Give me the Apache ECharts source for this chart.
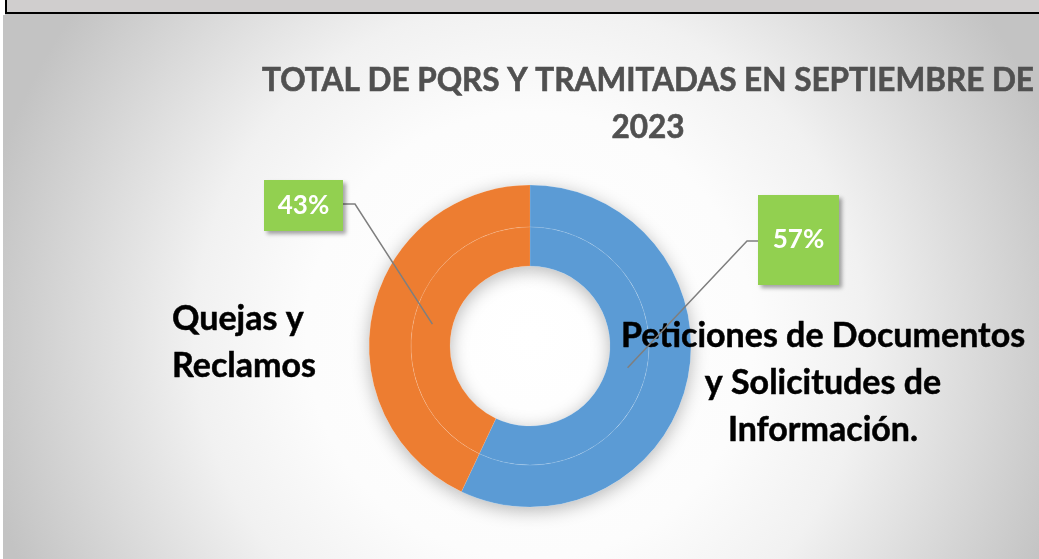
<!DOCTYPE html>
<html>
<head>
<meta charset="utf-8">
<title>PQRS septiembre 2023</title>
<script src="https://cdn.jsdelivr.net/npm/echarts@6/dist/echarts.min.js"></script>
<style>
    html, body { margin: 0; padding: 0; background: #fff; }
    #chart { width: 1039px; height: 559px; }
</style>
</head>
<body>
<div id="chart"></div>
<script>
// datos
var titleText = 'TOTAL DE PQRS Y TRAMITADAS EN SEPTIEMBRE DE\n2023';
var categories = ['Peticiones de Documentos\ny Solicitudes de\nInformación.', 'Quejas y\nReclamos'];
var values = [57, 43];
var colors = ['#5b9bd5', '#ed7d31'];

// posiciones de las etiquetas (en px)
var pctBoxes = [
    { x: 798.5, y: 240, w: 81, h: 90, lineY: 241, side: 'right' },
    { x: 303.5, y: 205.5, w: 79, h: 51, lineY: 204, side: 'left' },
];
var nameSpots = [
    { x: 823, y: 383, align: 'center' },
    { x: 172, y: 343, align: 'left' },
];

var center = [530, 346];
var font = 'Lato, "Open Sans", sans-serif';

var ringData = values.map(function (v, i) {
    return { name: categories[i], value: v, itemStyle: { color: colors[i] } };
});

var option = {
    animation: false,
    backgroundColor: {
        type: 'radial',
        x: 0.51,
        y: 0.6,
        r: 1.0,
        colorStops: [
            { offset: 0, color: '#ffffff' },
            { offset: 0.4, color: '#fcfcfc' },
            { offset: 0.6, color: '#f1f1f1' },
            { offset: 1, color: '#c3c3c3' },
        ],
    },
    graphic: [
        { type: 'rect', shape: { x: 0, y: 0, width: 3, height: 559 }, style: { fill: '#fff' } },
        { type: 'rect', shape: { x: 0, y: 0, width: 5, height: 15 }, style: { fill: '#fff' } },
        {
            type: 'rect',
            shape: { x: 6, y: -3, width: 1040, height: 16 },
            style: { fill: '#d0cece', stroke: '#000', lineWidth: 2 },
        },
    ],
    title: {
        text: titleText,
        left: 643,
        top: 52,
        textAlign: 'center',
        textStyle: {
            fontFamily: font,
            fontSize: 31.5,
            fontWeight: 'bold',
            color: '#505050',
            lineHeight: 47,
            textBorderColor: '#505050',
            textBorderWidth: 0.6,
        },
    },
    series: [{
        // sombra bajo el anillo
        type: 'pie',
        silent: true,
        center: center,
        radius: [80, 161],
        startAngle: 90,
        z: 1,
        label: { show: false },
        labelLine: { show: false },
        itemStyle: {
            color: '#ffffff',
            shadowBlur: 18,
            shadowOffsetY: 4,
            shadowColor: 'rgba(0, 0, 0, 0.28)',
        },
        data: values.slice(),
    }, {
        // anillo exterior, con los nombres
        type: 'pie',
        silent: true,
        center: center,
        radius: [119, 161],
        startAngle: 90,
        avoidLabelOverlap: false,
        z: 2,
        itemStyle: {
            borderColor: 'rgba(255, 255, 255, 0.18)',
            borderWidth: 0.6,
        },
        label: {
            show: true,
            position: 'outside',
            formatter: '{b}',
            fontFamily: font,
            fontSize: 34,
            fontWeight: 'bold',
            color: '#000',
            lineHeight: 47,
            textBorderColor: '#000',
            textBorderWidth: 0.5,
        },
        labelLine: { show: false },
        labelLayout: function (params) {
            var s = nameSpots[params.dataIndex];
            return { x: s.x, y: s.y, align: s.align, verticalAlign: 'middle' };
        },
        data: ringData,
    }, {
        // anillo interior
        type: 'pie',
        silent: true,
        center: center,
        radius: [80, 119],
        startAngle: 90,
        z: 2,
        itemStyle: {
            borderColor: 'rgba(255, 255, 255, 0.18)',
            borderWidth: 0.6,
        },
        label: { show: false },
        labelLine: { show: false },
        data: ringData,
    }, {
        // porcentajes con línea guía
        type: 'pie',
        silent: true,
        center: center,
        radius: [0, 100],
        startAngle: 90,
        avoidLabelOverlap: false,
        z: 3,
        itemStyle: { color: 'rgba(0, 0, 0, 0)' },
        label: {
            show: true,
            position: 'outside',
            formatter: function (p) {
                return Math.round(p.percent) + '%';
            },
            fontFamily: font,
            fontSize: 26,
            fontWeight: 'bold',
            color: '#fff',
            backgroundColor: '#92d050',
            shadowColor: 'rgba(0, 0, 0, 0.35)',
            shadowBlur: 4,
            shadowOffsetX: 3,
            shadowOffsetY: 3,
        },
        labelLine: {
            show: true,
            length: 20,
            length2: 10,
            lineStyle: { color: '#7f7f7f', width: 1.5 },
        },
        labelLayout: function (params) {
            var b = pctBoxes[params.dataIndex];
            var edge = b.side === 'left' ? b.x + b.w / 2 : b.x - b.w / 2;
            var knee = b.side === 'left' ? edge + 12 : edge - 11;
            var res = {
                x: b.x,
                y: b.y,
                align: 'center',
                verticalAlign: 'middle',
            };
            if (params.labelLinePoints) {
                res.labelLinePoints = [params.labelLinePoints[0], [knee, b.lineY], [edge, b.lineY]];
            }
            return res;
        },
        data: values.map(function (v, i) {
            var b = pctBoxes[i];
            return { name: categories[i], value: v, label: { width: b.w, lineHeight: b.h, height: b.h } };
        }),
    }],
};

var myChart = echarts.init(document.getElementById('chart'));
myChart.setOption(option);
window.addEventListener('resize', myChart.resize);
</script>
</body>
</html>
